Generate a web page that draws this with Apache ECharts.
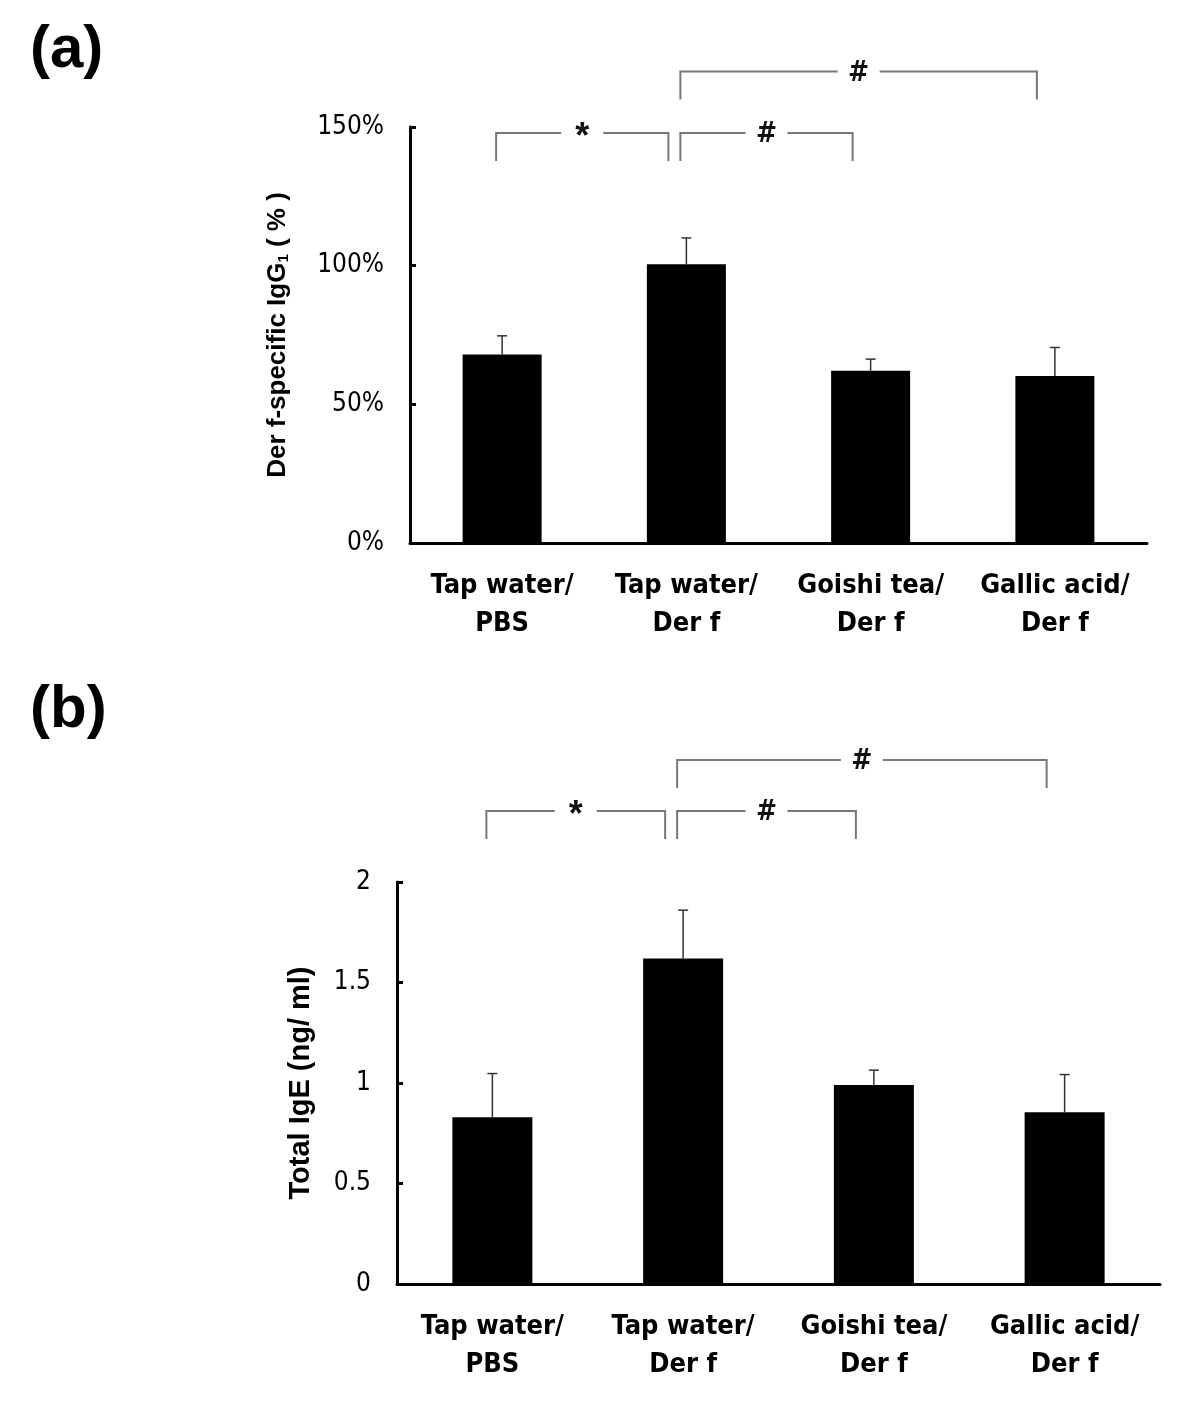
<!DOCTYPE html>
<html>
<head>
<meta charset="utf-8">
<script src="https://cdn.jsdelivr.net/npm/echarts@6/dist/echarts.min.js"></script>
<style>html,body{margin:0;padding:0;background:#fff}#c{width:1200px;height:1421px}</style>
</head>
<body>
<div id="c"></div>
<script>
// ---- data ----
const categories = ['Tap water/\nPBS', 'Tap water/\nDer f', 'Goishi tea/\nDer f', 'Gallic acid/\nDer f'];
const igg1Mean = [68, 100.5, 62.1, 60.2];
const igg1SD = [6.7, 9.5, 4.2, 10.3];
const igeMean = [0.83, 1.62, 0.99, 0.855];
const igeSD = [0.217, 0.24, 0.074, 0.187];
const iggTicks = [0, 50, 100, 150];
const igeTicks = [0, 0.5, 1, 1.5, 2];
// significance brackets: [fromIndex, toIndex, level (axis units)]
const iggBrackets = [[0, 1, 147.8], [1, 2, 147.8], [1, 3, 170]];
const iggBracketLabels = ['*', '#', '#'];
const igeBrackets = [[0, 1, 2.353], [1, 2, 2.353], [1, 3, 2.607]];
const igeBracketLabels = ['*', '#', '#'];

const narrow = "'Liberation Sans Narrow','Arial Narrow','DejaVu Sans Condensed',sans-serif";
const sans = "'Liberation Sans',Arial,sans-serif";

function errRender(params, api) {
  const x = api.value(0), m = api.value(1), sd = api.value(2);
  const p0 = api.coord([x, m]);
  const p1 = api.coord([x, m + sd]);
  const st = {stroke: '#333', lineWidth: 1.5};
  return {type: 'group', children: [
    {type: 'line', shape: {x1: p0[0], y1: p0[1], x2: p1[0], y2: p1[1]}, style: st},
    {type: 'line', shape: {x1: p1[0] - 5, y1: p1[1], x2: p1[0] + 5, y2: p1[1]}, style: st}
  ]};
}

function bracketRender(labels) {
  return function (params, api) {
    const f = api.value(0), t = api.value(1), lv = api.value(2);
    const a = api.coord([f, lv]);
    const b = api.coord([t, lv]);
    const x1 = a[0] - 6, x2 = b[0] - 18, y = a[1];
    const mid = (x1 + x2) / 2, gap = 21, drop = 28;
    const lab = labels[params.dataIndex];
    const st = {stroke: '#777', lineWidth: 2, fill: null};
    return {type: 'group', children: [
      {type: 'polyline', shape: {points: [[x1, y + drop], [x1, y], [mid - gap, y]]}, style: st},
      {type: 'polyline', shape: {points: [[mid + gap, y], [x2, y], [x2, y + drop]]}, style: st},
      {type: 'text', x: mid, y: lab === '*' ? y + 5 : y + 2, style: {text: lab, fill: '#111',
        font: lab === '*' ? "bold 36px " + sans : "bold 28px " + narrow, align: 'center', verticalAlign: 'middle'}}
    ]};
  };
}

const axisLabelCat = {fontFamily: narrow, fontSize: 27, fontWeight: 'bold', color: '#000', lineHeight: 38, margin: 24, interval: 0};

const option = {
  animation: false,
  backgroundColor: '#fff',
  graphic: [
    {type: 'text', left: 30, top: 20, style: {text: '(a)', font: "bold 60px " + sans, fill: '#000'}},
    {type: 'text', left: 30, top: 680, style: {text: '(b)', font: "bold 60px " + sans, fill: '#000'}}
  ],
  grid: [
    {left: 410, top: 127, width: 737, height: 416},
    {left: 397, top: 882, width: 763, height: 402}
  ],
  xAxis: [
    {type: 'category', gridIndex: 0, data: categories,
      axisLine: {lineStyle: {color: '#000', width: 3}},
      axisTick: {inside: true, length: 8, lineStyle: {color: '#000', width: 3}},
      axisLabel: axisLabelCat},
    {type: 'category', gridIndex: 1, data: categories,
      axisLine: {lineStyle: {color: '#000', width: 3}},
      axisTick: {inside: true, length: 8, lineStyle: {color: '#000', width: 3}},
      axisLabel: axisLabelCat}
  ],
  yAxis: [
    {type: 'value', gridIndex: 0, min: iggTicks[0], max: iggTicks[iggTicks.length - 1], interval: 50,
      axisLine: {show: true, lineStyle: {color: '#000', width: 3}},
      axisTick: {show: true, inside: true, length: 6, lineStyle: {color: '#000', width: 3}},
      splitLine: {show: false},
      axisLabel: {formatter: '{value}%', fontFamily: narrow, fontSize: 26, color: '#000', margin: 26},
      name: '{a|Der f-specific IgG}{s|1}{a| ( % )}', nameLocation: 'middle', nameGap: 119, nameRotate: 90,
      nameTextStyle: {rich: {
        a: {fontFamily: sans, fontWeight: 'bold', fontSize: 26, color: '#000'},
        s: {fontFamily: sans, fontWeight: 'bold', fontSize: 15, color: '#000', padding: [12, 0, 0, 0]}
      }}},
    {type: 'value', gridIndex: 1, min: igeTicks[0], max: igeTicks[igeTicks.length - 1], interval: 0.5,
      axisLine: {show: true, lineStyle: {color: '#000', width: 3}},
      axisTick: {show: true, inside: true, length: 6, lineStyle: {color: '#000', width: 3}},
      splitLine: {show: false},
      axisLabel: {fontFamily: narrow, fontSize: 26, color: '#000', margin: 26},
      name: 'Total IgE (ng/ ml)', nameLocation: 'middle', nameGap: 82, nameRotate: 90,
      nameTextStyle: {fontFamily: sans, fontWeight: 'bold', fontSize: 29, color: '#000'}}
  ],
  series: [
    {type: 'bar', xAxisIndex: 0, yAxisIndex: 0, data: igg1Mean, barWidth: 79, itemStyle: {color: '#000'}},
    {type: 'custom', xAxisIndex: 0, yAxisIndex: 0, renderItem: errRender, z: 3,
      data: igg1Mean.map((m, i) => [i, m, igg1SD[i]])},
    {type: 'custom', xAxisIndex: 0, yAxisIndex: 0, renderItem: bracketRender(iggBracketLabels), clip: false,
      data: iggBrackets},
    {type: 'bar', xAxisIndex: 1, yAxisIndex: 1, data: igeMean, barWidth: 80, itemStyle: {color: '#000'}},
    {type: 'custom', xAxisIndex: 1, yAxisIndex: 1, renderItem: errRender, z: 3,
      data: igeMean.map((m, i) => [i, m, igeSD[i]])},
    {type: 'custom', xAxisIndex: 1, yAxisIndex: 1, renderItem: bracketRender(igeBracketLabels), clip: false,
      data: igeBrackets}
  ]
};
const chart = echarts.init(document.getElementById('c'), null, {renderer: 'canvas'});
chart.setOption(option);
</script>
</body>
</html>
